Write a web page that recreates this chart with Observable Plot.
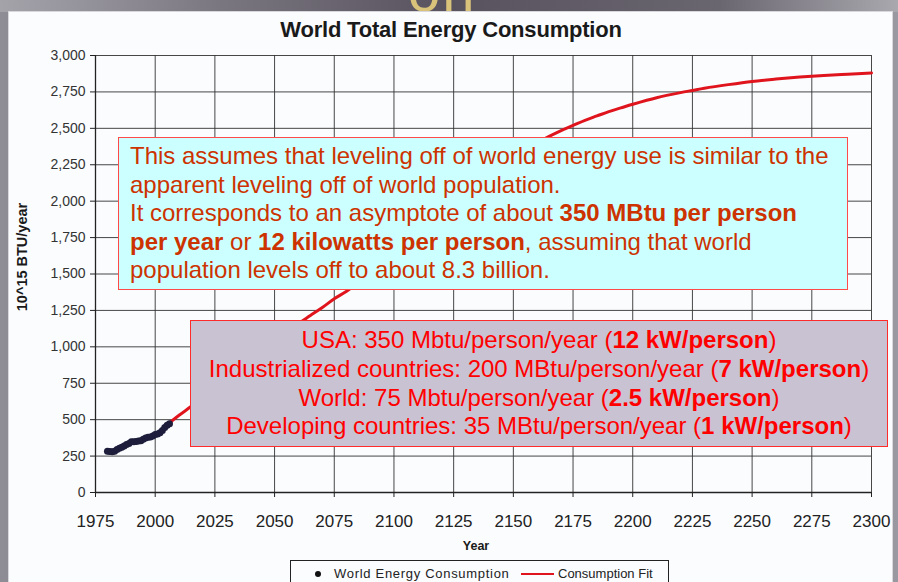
<!DOCTYPE html>
<html>
<head>
<meta charset="utf-8">
<script src="https://cdn.jsdelivr.net/npm/d3@7"></script>
<script src="https://cdn.jsdelivr.net/npm/@observablehq/plot@0.6"></script>
<style>
  html, body { margin: 0; padding: 0; }
  body {
    width: 898px; height: 582px; overflow: hidden; position: relative;
    background: linear-gradient(90deg, #8e8c94 0%, #6f6b74 30%, #55505b 50%, #6c6870 75%, #9a98a0 100%);
    font-family: "Liberation Sans", Arial, sans-serif;
  }
  #topband {
    position: absolute; left: 0; top: 0; width: 898px; height: 12px;
    background: linear-gradient(90deg, #a4a3aa 0%, #7a7680 25%, #57525d 50%, #6a6670 80%, #a9a8ae 100%);
  }
  #on {
    position: absolute; left: 408px; top: -38px; font-size: 58px; color: #d9c27a;
    font-family: "Liberation Sans", Arial, sans-serif; line-height: 58px; letter-spacing: 2px;
  }
  #panel {
    position: absolute; left: 8px; top: 11px; width: 883px; height: 575px;
    background: #fafcfe; border: 1px solid #d8d8dc;
  }
  #chart { position: absolute; left: 0; top: 0; }
  #title {
    position: absolute; left: 0; width: 898px; top: 17px; text-align: center;
    font-size: 22px; font-weight: bold; color: #1a1a1a; letter-spacing: -0.2px; margin-left: 2px;
  }
  #ylabel {
    position: absolute; left: 22px; top: 257px; transform: translate(-50%, -50%) rotate(-90deg);
    font-size: 14.5px; font-weight: bold; color: #1a1a1a; white-space: nowrap;
  }
  #xlabel {
    position: absolute; left: 476px; top: 539px; transform: translateX(-50%);
    font-size: 12.5px; font-weight: bold; color: #1a1a1a;
  }
  #legend {
    position: absolute; left: 290px; top: 560px; width: 377px; height: 30px;
    border: 1px solid #222; background: #fafcfe;
  }
  .lg { position: absolute; top: 5px; font-size: 13px; color: #222; white-space: nowrap; }
  #box1 {
    position: absolute; left: 118px; top: 137px; width: 730px; height: 153px; box-sizing: border-box;
    background: #ccffff; border: 1px solid #ff4a4a; color: #cc3300;
    font-size: 24px; line-height: 28.5px; padding: 4px 0 0 11px; white-space: nowrap;
  }
  #box2 {
    position: absolute; left: 190px; top: 320px; width: 698px; height: 127px; box-sizing: border-box;
    background: #c9c2d3; border: 1px solid #ff2a2a; color: #ff0000;
    font-size: 24px; line-height: 28.8px; padding-top: 5px; text-align: center; white-space: nowrap;
  }
  b { font-weight: bold; }
</style>
</head>
<body>
<div id="topband"></div>
<div id="on">on</div>
<div id="panel"></div>
<div id="chart"></div>
<div id="title">World Total Energy Consumption</div>
<div id="ylabel">10^15 BTU/year</div>
<div id="xlabel">Year</div>
<div id="legend"></div>
<div id="box1">This assumes that leveling off of world energy use is similar to the<br>apparent leveling off of world population.<br>It corresponds to an asymptote of about <b>350 MBtu per person</b><br><b>per year</b> or <b>12 kilowatts per person</b>, assuming that world<br>population levels off to about 8.3 billion.</div>
<div id="box2">USA: 350 Mbtu/person/year (<b>12 kW/person</b>)<br>Industrialized countries: 200 MBtu/person/year (<b>7 kW/person</b>)<br>World: 75 Mbtu/person/year (<b>2.5 kW/person</b>)<br>Developing countries: 35 MBtu/person/year (<b>1 kW/person</b>)</div>
<script>
// Observed world energy consumption (10^15 BTU / year)
const obsYears = [1980,1981,1982,1983,1984,1985,1986,1987,1988,1989,1990,1991,1992,1993,1994,1995,1996,1997,1998,1999,2000,2001,2002,2003,2004,2005,2006];
const obsValues = [283,281,280,283,295,303,310,319,330,336,348,349,350,353,356,365,375,379,381,388,399,402,411,426,446,462,472];

// Consumption fit curve (hidden parts estimated)
const fitYears = [2005,2010,2015,2020,2025,2030,2035,2040,2045,2050,2055,2060,2065,2070,2075,2080,2085,2090,2095,2100,2105,2110,2115,2120,2125,2130,2135,2140,2145,2150,2155,2160,2165,2170,2175,2180,2185,2190,2195,2200,2210,2220,2225,2230,2240,2250,2260,2270,2280,2290,2300];
const fitValues = [465,530,590,655,720,785,850,915,975,1040,1100,1160,1215,1270,1330,1380,1440,1505,1570,1640,1710,1780,1850,1920,1990,2060,2125,2190,2250,2305,2355,2400,2445,2485,2520,2555,2585,2615,2640,2665,2710,2745,2760,2775,2800,2822,2838,2852,2863,2872,2880];

const xTicks = [1975,2000,2025,2050,2075,2100,2125,2150,2175,2200,2225,2250,2275,2300];
const yTicks = [0,250,500,750,1000,1250,1500,1750,2000,2250,2500,2750,3000];

const obs = obsYears.map((y, i) => ({year: y, value: obsValues[i]}));
const fit = fitYears.map((y, i) => ({year: y, value: fitValues[i]}));

const chart = Plot.plot({
  width: 898,
  height: 530,
  marginLeft: 95,
  marginRight: 27,
  marginTop: 55,
  marginBottom: 38,
  style: {background: "transparent", fontFamily: "'Liberation Sans', Arial, sans-serif", color: "#222", overflow: "visible"},
  x: {domain: [1975, 2300], label: null},
  y: {domain: [0, 3000], label: null},
  marks: [
    Plot.gridX(xTicks, {stroke: "#333", strokeOpacity: 0.9, strokeWidth: 1}),
    Plot.gridY(yTicks, {stroke: "#333", strokeOpacity: 0.9, strokeWidth: 1}),
    Plot.axisX(xTicks, {tickSize: 5, tickPadding: 17, fontSize: 17, tickFormat: d => String(d), label: null, stroke: "#222", fill: "#222", style: {letterSpacing: "0.4px"}}),
    Plot.axisY(yTicks, {tickSize: 5, tickPadding: 5, fontSize: 14, tickFormat: d3.format(","), label: null, stroke: "#222", fill: "#333", style: {letterSpacing: "1.1px"}}),
    Plot.ruleX([1975], {stroke: "#222", strokeWidth: 1.3}),
    Plot.ruleY([0], {stroke: "#222", strokeWidth: 1.3}),
    Plot.line(fit, {x: "year", y: "value", stroke: "#e0141c", strokeWidth: 3, curve: "catmull-rom"}),
    Plot.dot(obs, {x: "year", y: "value", r: 3.5, fill: "#1e1e3c", stroke: "none"})
  ]
});
document.getElementById("chart").appendChild(chart);

// legend
const lg = document.getElementById("legend");
lg.innerHTML = `
  <svg width="377" height="30" style="position:absolute;left:0;top:0">
    <circle cx="27" cy="13" r="3" fill="#111"></circle>
    <line x1="230" x2="263" y1="13" y2="13" stroke="#e0141c" stroke-width="2"></line>
  </svg>
  <span class="lg" style="left:43px; letter-spacing:0.7px">World Energy Consumption</span>
  <span class="lg" style="left:267px">Consumption Fit</span>`;
</script>
</body>
</html>
